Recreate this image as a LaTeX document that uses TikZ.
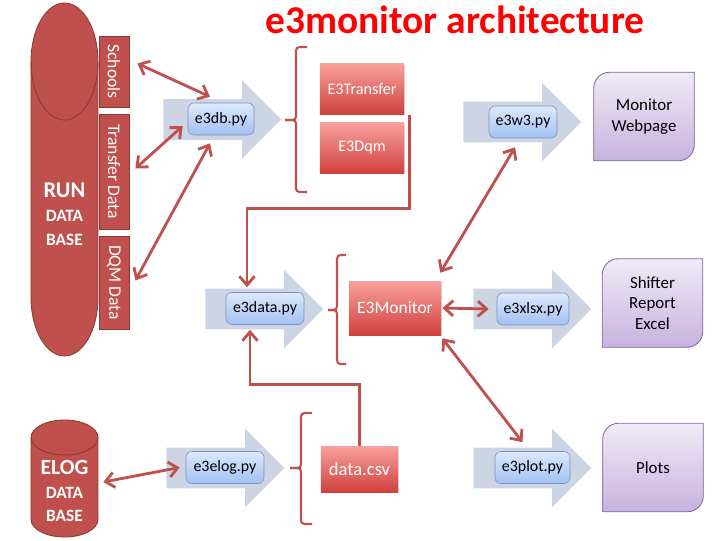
\documentclass[tikz,border=0pt]{standalone}
\usepackage{fontspec}
\setmainfont{Carlito}
\usepackage{graphicx}
\usetikzlibrary{arrows.meta,positioning,shapes.arrows,shadows,backgrounds}

\definecolor{titlered}{HTML}{FF0000}
\definecolor{dbred}{HTML}{C0504D}
\definecolor{dbline}{HTML}{8C3836}
\definecolor{boxtop}{HTML}{F8A09D}
\definecolor{boxbottom}{HTML}{D0413D}
\definecolor{pytop}{HTML}{DCE8FC}
\definecolor{pybottom}{HTML}{A3C1F3}
\definecolor{pyline}{HTML}{7D8FB3}
\definecolor{arrowgrey}{HTML}{CDD5E4}
\definecolor{webtop}{HTML}{F0EBF7}
\definecolor{webbottom}{HTML}{C6B3DF}
\definecolor{webline}{HTML}{8064A2}

\tikzset{
	bigarrow/.style={single arrow, fill=arrowgrey, draw=none, anchor=tail,
		minimum height=2.95cm, minimum width=1.95cm, inner xsep=0pt, inner ysep=0.5cm,
		single arrow head extend=0.475cm},
	pybox/.style={rectangle, rounded corners=0.15cm, draw=pyline, line width=.4pt,
		top color=pytop, bottom color=pybottom, minimum height=0.8cm, inner sep=0pt,
		font=\fontsize{11.3}{13}\selectfont},
	redbox/.style={rectangle, top color=boxtop, bottom color=boxbottom, text=white, inner sep=0pt,
		drop shadow={opacity=0.3, shadow xshift=0.6pt, shadow yshift=-0.8pt}},
	sidebox/.style={rectangle, fill=dbred, draw=dbline, line width=.6pt, text=white,
		minimum width=0.75cm, inner sep=0pt, font=\fontsize{12.5}{14}\selectfont},
	dbtext/.style={text=white, align=center, minimum width=1.675cm, inner sep=0pt,
		font=\fontsize{12.3}{17}\bfseries\selectfont},
	outbox/.style={rectangle, minimum width=2.5cm, minimum height=2.2cm, align=center,
		inner sep=0pt, font=\fontsize{12}{14.5}\selectfont},
	link/.style={draw=dbred, line width=2pt,
		{Straight Barb[length=2.2mm,width=3.8mm]}-{Straight Barb[length=2.2mm,width=3.8mm]}},
	feed/.style={draw=dbred, line width=2pt, -{Straight Barb[length=2.2mm,width=3.8mm]}},
	grouping/.style={draw=dbred, line width=1.5pt, rounded corners=2.5pt},
}

\begin{document}
\begin{tikzpicture}[x=0.025cm, y=-0.025cm]
	\useasboundingbox (0,0) rectangle (720,540);

	% title
	\node (title) at (455,33) [anchor=base, text=titlered, font=\fontsize{28}{32}\bfseries\selectfont] {e3monitor architecture};

	% run data base
	\fill[dbred] (31,61.5) rectangle (98,297.5);
	\fill[dbred] (64.5,297.5) ellipse [x radius=33.5, y radius=58.5];
	\filldraw[fill=dbred, draw=dbline, line width=.6pt] (64.5,61.5) ellipse [x radius=33.5, y radius=58.5];
	\draw[dbline, line width=.6pt] (31,61.5) -- (31,297.5) arc [start angle=180, end angle=0, x radius=33.5, y radius=58.5] -- (98,61.5);
	\node (rundb) at (64.5,214) [dbtext] {{\fontsize{16}{17}\selectfont RUN}\\DATA\\BASE};

	\node (schools) at (114,71.5) [sidebox, minimum height=1.775cm] {\rotatebox{-90}{Schools}};
	\node (transfer) at (114,171.5) [sidebox, minimum height=2.875cm] {\rotatebox{-90}{Transfer Data}};
	\node (dqm) at (114,282.5) [sidebox, minimum height=2.325cm] {\rotatebox{-90}{DQM Data}};

	% elog data base
	\fill[dbred] (31,437.5) rectangle (98,519.5);
	\filldraw[fill=dbred, draw=dbline, line width=.6pt] (64.5,437.5) ellipse [x radius=33.5, y radius=17.5];
	\fill[dbred] (64.5,519.5) ellipse [x radius=33.5, y radius=17.5];
	\draw[dbline, line width=.6pt] (31,437.5) -- (31,519.5) arc [start angle=180, end angle=0, x radius=33.5, y radius=17.5] -- (98,437.5);
	\node (elogdb) at (64.5,491) [dbtext] {{\fontsize{15.4}{17}\selectfont ELOG}\\DATA\\BASE};

	% big arrows
	\node (dbarrow) at (163,119.5) [bigarrow] {};
	\node (dataarrow) at (205,309) [bigarrow] {};
	\node (elogarrow) at (166,468) [bigarrow] {};
	\node (w3arrow) at (463,122) [bigarrow] {};
	\node (xlsxarrow) at (473,309) [bigarrow] {};
	\node (plotarrow) at (473,468) [bigarrow] {};

	% scripts
	\node (e3db) at (221,119) [pybox, minimum width=1.65cm] {e3db.py};
	\node (e3data) at (265,308.5) [pybox, minimum width=1.95cm] {e3data.py};
	\node (e3elog) at (225,467.5) [pybox, minimum width=1.95cm] {e3elog.py};
	\node (e3w3) at (523,122) [pybox, minimum width=1.7cm] {e3w3.py};
	\node (e3xlsx) at (533,309) [pybox, minimum width=1.8cm] {e3xlsx.py};
	\node (e3plot) at (532.5,467.5) [pybox, minimum width=1.875cm] {e3plot.py};

	% modules
	\node (e3transfer) at (362,89) [redbox, minimum width=2.1cm, minimum height=1.25cm, font=\fontsize{11.5}{13}\selectfont] {E3Transfer};
	\node (e3dqm) at (362,148) [redbox, minimum width=2.1cm, minimum height=1.25cm, font=\fontsize{11.5}{13}\selectfont] {E3Dqm};
	\node (monitor) at (395,308) [redbox, minimum width=2.3cm, minimum height=1.35cm, font=\fontsize{12.4}{14}\selectfont] {E3Monitor};
	\node (datacsv) at (359.5,469) [redbox, minimum width=1.925cm, minimum height=1.15cm, font=\fontsize{13.2}{15}\selectfont] {data.csv};

	% outputs
	\node (web) at (644,116.5) [outbox] {Monitor\\Webpage};
	\node (shifter) at (652.5,303) [outbox] {Shifter\\Report\\Excel};
	\node (plots) at (653,467.5) [outbox] {Plots};
	\begin{scope}[on background layer]
		\foreach \n in {web,shifter,plots}
			\shade[draw=webline, line width=.6pt, top color=webtop, bottom color=webbottom]
				([yshift=-4mm]\n.north west) -- (\n.south west) -- ([xshift=-4mm]\n.south east)
				to[out=0,in=-90] ([yshift=4mm]\n.south east) -- (\n.north east)
				-- ([xshift=4mm]\n.north west) to[out=180,in=90] ([yshift=-4mm]\n.north west) -- cycle;
	\end{scope}

	% braces
	\draw[grouping] (307,47) -| (296,120) -- (285,120);
	\draw[grouping] (307,192) -| (296,120) -- (285,120);
	\draw[grouping] (346,255) -| (337,310) -- (328,310);
	\draw[grouping] (346,364) -| (337,310) -- (328,310);
	\draw[grouping] (312,413) -| (301,468) -- (290,468);
	\draw[grouping] (312,524) -| (301,468) -- (290,468);

	% connectors
	\draw[link] ([shift={(8,-8)}]schools.east) -- ([shift={(-11,-6)}]e3db.north);
	\draw[link] ([shift={(6,-3)}]transfer.east) -- ([shift={(-5,7)}]e3db.west);
	\draw[link] ([shift={(6,-2)}]dqm.east) -- ([shift={(-11,8)}]e3db.south);
	\draw[link] ([shift={(5,-9)}]elogdb.east) -- ([shift={(-6,0)}]e3elog.west);
	\draw[feed] ([shift={(5,1)}]e3transfer.south east) -- ++(0,93) -| ([shift={(-18,-5)}]e3data.north);
	\draw[feed] (datacsv.north) -- ++(0,-61) -| ([shift={(-15,5)}]e3data.south);
	\draw[link] ([shift={(-1,-8)}]monitor.north east) -- ([shift={(-8,9)}]e3w3.south);
	\draw[link] ([shift={(1,0)}]monitor.east) -- ([shift={(-8,0)}]e3xlsx.west);
	\draw[link] ([shift={(1,3)}]monitor.south east) -- ([shift={(-10,-9)}]e3plot.north);
\end{tikzpicture}
\end{document}
